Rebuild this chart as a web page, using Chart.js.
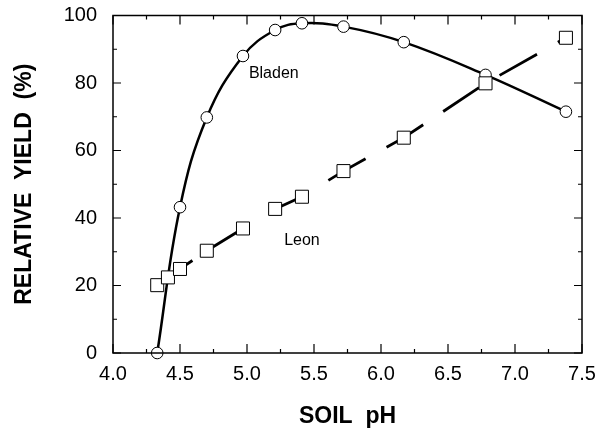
<!DOCTYPE html>
<html>
<head>
<meta charset="utf-8">
<script src="https://cdn.jsdelivr.net/npm/chart.js@4/dist/chart.umd.min.js"></script>
<style>
  html, body { margin: 0; padding: 0; background: #fff; }
  #wrap { width: 600px; height: 432px; }
</style>
</head>
<body>
<div id="wrap"><canvas id="c" width="600" height="432"></canvas></div>
<script>
// Relative yield vs. soil pH for two soils
const bladenPH    = [4.33, 4.50, 4.70, 4.97, 5.21, 5.41, 5.72, 6.17, 6.78, 7.38];
const bladenYield = [0, 43.2, 69.8, 88.0, 95.7, 97.7, 96.7, 92.1, 82.4, 71.5];

const leonPH    = [4.33, 4.41, 4.50, 4.70, 4.97, 5.21, 5.41, 5.72, 6.17, 6.78, 7.38];
const leonYield = [20.1, 22.4, 24.9, 30.3, 36.9, 42.7, 46.3, 53.9, 63.8, 79.9, 93.4];

const xTicks = [4.0, 4.5, 5.0, 5.5, 6.0, 6.5, 7.0, 7.5];
const yTicks = [0, 20, 40, 60, 80, 100];

const seriesLabels = [
  { text: 'Bladen', x: 5.20, y: 82.7 },
  { text: 'Leon',   x: 5.41, y: 33.2 }
];

const toPoints = (xs, ys) => xs.map((x, i) => ({ x, y: ys[i] }));

// Boxed frame with inward tick marks on all four sides, plus series labels
const framePlugin = {
  id: 'frame',
  afterDraw(chart) {
    const { ctx, chartArea: a, scales: { x, y } } = chart;
    ctx.save();
    ctx.strokeStyle = '#000';
    ctx.lineWidth = 1.5;
    ctx.strokeRect(a.left, a.top, a.right - a.left, a.bottom - a.top);
    ctx.lineWidth = 1.2;
    ctx.beginPath();
    for (let v = 4.0; v <= 7.5001; v += 0.25) {
      const px = x.getPixelForValue(v);
      const major = Math.abs(v * 2 - Math.round(v * 2)) < 1e-6;
      const len = major ? 9 : 4;
      ctx.moveTo(px, a.bottom); ctx.lineTo(px, a.bottom - len);
      ctx.moveTo(px, a.top);    ctx.lineTo(px, a.top + len);
    }
    for (let v = 0; v <= 100; v += 10) {
      const py = y.getPixelForValue(v);
      const len = (v % 20 === 0) ? 8 : 4;
      ctx.moveTo(a.left, py);  ctx.lineTo(a.left + len, py);
      ctx.moveTo(a.right, py); ctx.lineTo(a.right - len, py);
    }
    ctx.stroke();

    ctx.fillStyle = '#000';
    ctx.font = '16px "Liberation Sans", Arial, sans-serif';
    ctx.textAlign = 'center';
    ctx.textBaseline = 'middle';
    seriesLabels.forEach(l => {
      ctx.fillText(l.text, x.getPixelForValue(l.x), y.getPixelForValue(l.y));
    });
    ctx.restore();
  }
};

const tickFont = { family: '"Liberation Sans", Arial, sans-serif', size: 20 };
const titleFont = { family: '"Liberation Sans", Arial, sans-serif', size: 23, weight: 'bold' };

new Chart(document.getElementById('c'), {
  type: 'scatter',
  data: {
    datasets: [
      {
        label: 'Leon',
        data: toPoints(leonPH, leonYield),
        showLine: true,
        borderColor: '#000',
        borderWidth: 2.8,
        borderDash: [43, 24],
        tension: 0,
        pointStyle: 'rect',
        pointRadius: 9.2,
        pointBorderWidth: 1,
        pointBackgroundColor: '#fff',
        pointBorderColor: '#000',
        clip: false
      },
      {
        label: 'Bladen',
        data: toPoints(bladenPH, bladenYield),
        showLine: true,
        borderColor: '#000',
        borderWidth: 2.5,
        tension: 0.4,
        pointStyle: 'circle',
        pointRadius: 5.8,
        pointBorderWidth: 1,
        pointBackgroundColor: '#fff',
        pointBorderColor: '#000',
        clip: false
      }
    ]
  },
  options: {
    responsive: false,
    animation: false,
    events: [],
    layout: { padding: { left: 11, top: 15.5, right: 18, bottom: 2 } },
    plugins: { legend: { display: false }, tooltip: { enabled: false } },
    scales: {
      x: {
        type: 'linear',
        min: 4.0,
        max: 7.5,
        afterFit: s => { s.height = 77; s.paddingLeft = 0; s.paddingRight = 0; },
        afterBuildTicks: s => { s.ticks = xTicks.map(v => ({ value: v })); },
        grid: { display: false, drawTicks: false },
        border: { display: false },
        ticks: {
          color: '#000',
          font: tickFont,
          padding: 9,
          maxRotation: 0,
          autoSkip: false,
          callback: v => Number(v).toFixed(1)
        },
        title: { display: true, text: 'SOIL  pH', color: '#000', font: titleFont, padding: 0 }
      },
      y: {
        type: 'linear',
        min: 0,
        max: 100,
        afterFit: s => { s.width = 102; s.paddingTop = 0; s.paddingBottom = 0; },
        afterBuildTicks: s => { s.ticks = yTicks.map(v => ({ value: v })); },
        grid: { display: false, drawTicks: false },
        border: { display: false },
        ticks: { color: '#000', font: tickFont, padding: 16, autoSkip: false },
        title: { display: true, text: 'RELATIVE  YIELD  (%)', color: '#000', font: titleFont, padding: 0 }
      }
    }
  },
  plugins: [framePlugin]
});
</script>
</body>
</html>
